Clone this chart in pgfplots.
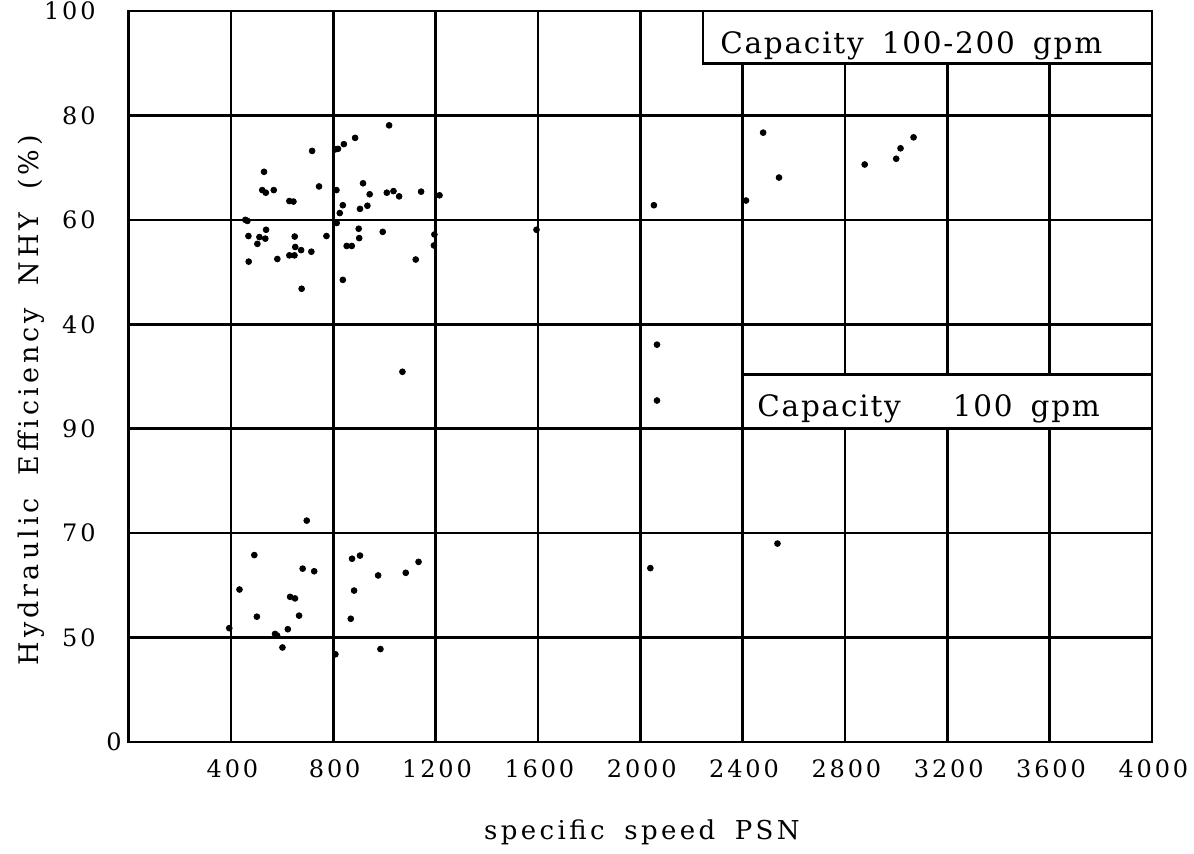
\documentclass[border=0pt]{standalone}
\usepackage{fontspec}
\setmainfont{DejaVu Serif}
\newfontfamily\tickfont{DejaVu Serif}[LetterSpace=12]
\newfontfamily\labfont{DejaVu Serif}[LetterSpace=13]
\newfontfamily\ylabfont{DejaVu Serif}[LetterSpace=15]
\newfontfamily\boxfont{DejaVu Serif}[LetterSpace=6]
\usepackage{pgfplots}
\pgfplotsset{compat=1.18}

\pgfplotstableread{
x y
1018 78.1
885 75.7
841 74.5
808 73.5
818 73.6
717 73.2
529 69.2
744 66.4
916 67.0
522 65.7
536 65.2
567 65.7
812 65.7
942 64.9
1009 65.2
1035 65.5
1057 64.5
1143 65.4
1215 64.7
628 63.6
644 63.5
837 62.8
933 62.7
904 62.1
825 61.3
456 60.0
464 59.8
813 59.4
468 56.9
537 58.1
511 56.7
534 56.4
503 55.4
649 56.8
773 56.9
899 58.3
901 56.5
993 57.7
651 54.8
674 54.2
714 53.9
628 53.2
648 53.2
852 55.0
872 55.0
469 52.0
581 52.5
1195 57.2
1193 55.1
1122 52.4
837 48.5
676 46.8
1594 58.1
2053 62.8
2480 76.7
2542 68.1
2877 70.6
3000 71.7
3017 73.7
3068 75.8
2413 63.7
2065 36.1
1070 30.9
}\toppanel

\pgfplotstableread{
x y
696 72.4
491 65.8
680 63.2
725 62.7
433 59.2
631 57.8
650 57.5
501 54.0
666 54.2
622 51.6
572 50.7
580 50.4
601 48.1
393 51.8
873 65.1
904 65.7
975 61.9
1083 62.4
1133 64.5
881 59.0
868 53.6
984 47.8
808 46.8
2039 63.3
2536 68.0
2065 95.4
}\bottompanel

\pgfplotsset{
  panel/.style={
    scale only axis, width=511.65pt, height=182.75pt,
    xmin=0, xmax=4000, ymin=30, ymax=100,
    xtick={400,800,1200,1600,2000,2400,2800,3200,3600,4000},
    grid=major,
    major grid style={black, line width=1.3pt},
    major tick length=0pt,
    axis line style={draw=none},
    clip=false,
    tick label style={font=\tickfont\fontsize{12}{14}\selectfont},
    yticklabel style={anchor=east, xshift=-13pt},
    xticklabel style={anchor=north, yshift=-5.5pt, xshift=0.7pt},
  },
  dots/.style={only marks, mark=*, mark size=1.45pt, black, mark options={fill=black, draw=black}},
}

\begin{document}
\begin{tikzpicture}
\useasboundingbox (0,0) rectangle (597pt,427pt);

% upper panel: capacity 100-200 gpm
\begin{axis}[panel, at={(64.35pt,238.75pt)}, anchor=south west,
  ytick={40,60,80,100}, yticklabels={40,60,80,\raisebox{-3pt}{100}},
  xticklabels={,,,,,,,,,}]
\addplot[dots] table[x=x, y=y] {\toppanel};
\draw[line width=1.3pt, fill=white] (axis cs:2245,90) rectangle (axis cs:4000,100);
\node[anchor=base west, inner sep=0pt, font=\boxfont\fontsize{14.75}{17}\selectfont]
  at (axis cs:2311,91.8) {Capacity\hspace{9pt}100-200\hspace{9pt}gpm};
\draw[line width=1.3pt, line cap=rect] (rel axis cs:0,0) -- (rel axis cs:0,1) -- (rel axis cs:1,1) -- (rel axis cs:1,0);
\end{axis}

% lower panel: capacity 100 gpm
\begin{axis}[panel, at={(64.35pt,56pt)}, anchor=south west,
  ytick={30,50,70,90}, yticklabels={0\hspace*{-13pt},50,70,90},
  xticklabels={400,800,1200,1600,2000,2400,2800,3200,3600,4000}]
\addplot[dots] table[x=x, y=y] {\bottompanel};
\draw[line width=1.3pt, fill=white] (axis cs:2400,90) rectangle (axis cs:4000,100.4);
\node[anchor=base west, inner sep=0pt, font=\boxfont\fontsize{14.75}{17}\selectfont]
  at (axis cs:2456,92.3) {Capacity\hspace{26pt}100\hspace{9pt}gpm};
\draw[line width=1.3pt, line cap=rect] (rel axis cs:0,1) -- (rel axis cs:0,0) -- (rel axis cs:1,0) -- (rel axis cs:1,1);
\node[anchor=base, font=\labfont\fontsize{13}{15}\selectfont, xshift=0.8pt, yshift=-49pt]
  at (axis description cs:0.5,0) {specific\hspace{4pt} speed\hspace{4pt} PSN};
\end{axis}

\node[rotate=90, anchor=base, font=\ylabfont\fontsize{13.5}{16}\selectfont]
  at (19pt,227pt) {Hydraulic\hspace{5pt} Efficiency\hspace{5pt} NHY\hspace{5pt} (\%)};
\end{tikzpicture}
\end{document}
